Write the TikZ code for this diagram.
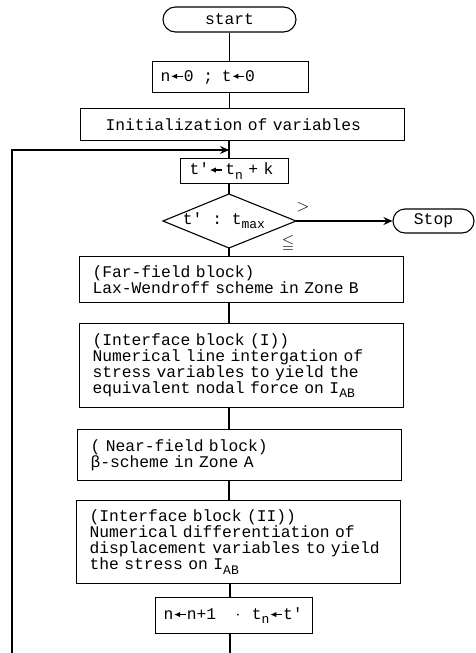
\documentclass[tikz,border=0pt]{standalone}
\usepackage{fontspec}
\usepackage{amssymb}
\setmonofont{Liberation Mono}
\usetikzlibrary{shapes.misc,arrows.meta}
\newcommand{\la}{\tikz[baseline=-0.55ex]\draw[{Latex[length=6pt,width=5.5pt]}-,line width=1.5pt](0pt,0pt)--(12pt,0pt);}
\newcommand{\sbs}[1]{\raisebox{-0.5ex}{\fontsize{13}{13}\selectfont #1}}
\tikzset{
  ln/.style={line width=1.1pt},
  arr/.style={ln,-{Stealth[length=9pt,width=8pt,inset=3pt]}},
  txt/.style={font=\ttfamily\fontsize{16.3}{16}\selectfont},
  blk/.style={draw,line width=1.1pt,anchor=north west,inner ysep=0pt,txt,align=left},
  term/.style={draw,line width=1.1pt,rounded rectangle,inner sep=0pt,txt},
  lbl/.style={font=\fontsize{16}{16}\selectfont,inner sep=0pt}
}
\begin{document}
\begin{tikzpicture}[x=1pt,y=-1pt]
\useasboundingbox (0,0) rectangle (475,653);
% terminals
\node[term,minimum width=133pt,minimum height=25pt] (start) at (229.5,19.5) {start};
\node[term,minimum width=81pt,minimum height=24pt] (stop) at (433.5,221) {Stop};
% boxes
\node[blk,inner xsep=8pt,text width=140pt,minimum height=31pt] (init0) at (152,61) {n\la0\hspace{0.6em}; \hspace{0.2em}t\la0};
\node[blk,inner xsep=25pt,text width=274pt,minimum height=32pt] (init) at (80,108) {Initialization of variables};
\node[blk,inner xsep=9pt,text width=90pt,minimum height=25pt] (tp) at (180,158) {t'\la\,t\sbs{n} + k};
\node[blk,inner xsep=13pt,text width=298pt,minimum height=46pt] (far) at (79,256)
  {(Far-field block)\\Lax-Wendroff scheme in Zone B};
\node[blk,inner xsep=13pt,text width=298pt,minimum height=84pt] (ifa) at (79,323)
  {(Interface block (I))\\Numerical line intergation of\\stress variables to yield the\\equivalent nodal force on I\sbs{AB}};
\node[blk,inner xsep=13pt,text width=298pt,minimum height=51pt] (near) at (77,429)
  {( Near-field block)\\β-scheme in Zone A};
\node[blk,inner xsep=13pt,text width=298pt,minimum height=83pt] (ifb) at (76,500)
  {(Interface block (II))\\Numerical differentiation of\\displacement variables to yield\\the stress on I\sbs{AB}};
\node[blk,inner xsep=8pt,text width=141pt,minimum height=36pt] (upd) at (155,597)
  {n\la n+1\hspace{1.2em}$\cdot$\hspace{0.7em}t\sbs{n}\la t'};
% decision
\coordinate (dT) at (229,194);
\coordinate (dB) at (229,248);
\coordinate (dL) at (163,221);
\coordinate (dR) at (296,221);
\draw[ln] (dT) -- (dR) -- (dB) -- (dL) -- cycle;
\node[txt,inner sep=0pt] (dec) at (224,221) {t' : t\sbs{max}};
\node[lbl] (gt) at (303,207) {$>$};
\node[lbl] (le) at (288,243) {$\leqq$};
% connectors
\draw[ln] (start.south) -- (start.south |- init0.north);
\draw[ln] (init0.south -| start.south) -- (start.south |- init.north);
\coordinate (join) at (229,150);
\draw[ln] (init.south -| join) -- (join |- tp.north);
\draw[ln] (tp.south -| dT) -- (dT);
\draw[arr] (dR) -- (stop.west);
\draw[ln] (dB) -- (dB |- far.north);
\draw[ln] (far.south -| dB) -- (dB |- ifa.north);
\draw[ln] (ifa.south -| dB) -- (dB |- near.north);
\draw[ln] (near.south -| dB) -- (dB |- ifb.north);
\coordinate (bot) at (230,653);
\draw[ln] (ifb.south -| bot) -- (bot |- upd.north);
\draw[ln] (upd.south -| bot) -- (bot);
\coordinate (lb) at (12,653);
\draw[arr] (lb) |- (join);
\end{tikzpicture}
\end{document}
